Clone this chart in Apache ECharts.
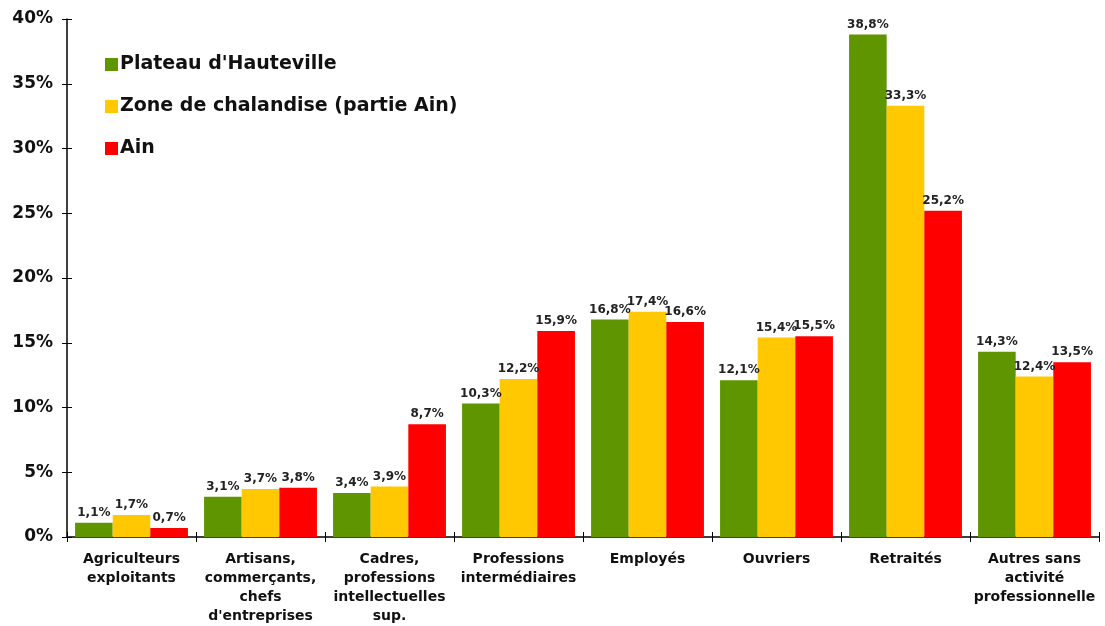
<!DOCTYPE html>
<html><head><meta charset="utf-8">
<script src="https://cdn.jsdelivr.net/npm/echarts@6/dist/echarts.min.js"></script>
<style>html,body{margin:0;padding:0;background:#fff}#c{width:1105px;height:626px}</style>
</head><body><div id="c"></div>
<script>
const categories = ["Agriculteurs\nexploitants","Artisans,\ncommerçants,\nchefs\nd'entreprises","Cadres,\nprofessions\nintellectuelles\nsup.","Professions\nintermédiaires","Employés","Ouvriers","Retraités","Autres sans\nactivité\nprofessionnelle"];
const seriesNames = ["Plateau d'Hauteville","Zone de chalandise (partie Ain)","Ain"];
const plateau = [1.1,3.1,3.4,10.3,16.8,12.1,38.8,14.3];
const zone = [1.7,3.7,3.9,12.2,17.4,15.4,33.3,12.4];
const ain = [0.7,3.8,8.7,15.9,16.6,15.5,25.2,13.5];
const colors = ["#5f9600","#ffc800","#ff0000"];
const F = "DejaVu Sans";
const chart = echarts.init(document.getElementById('c'));
function mk(name, data, color){
  return {name, type:'bar', data, itemStyle:{color}, barGap:'0%', barCategoryGap:'12.5%',
    label:{show:true, position:'top', distance:4, fontFamily:F, fontWeight:'bold', fontSize:12, color:'#222',
      formatter:p=>p.value.toFixed(1).replace('.',',')+'%'}};
}
chart.setOption({
  animation:false,
  textStyle:{fontFamily:F},
  grid:{left:67,right:6,top:19,bottom:86},
  legend:{orient:'vertical',left:100,top:50,itemWidth:13,itemHeight:13,itemGap:23,icon:'rect',
    textStyle:{fontFamily:F,fontWeight:'bold',fontSize:19,color:'#111',padding:[0,0,0,-3]},
    data:seriesNames},
  xAxis:[{type:'category',data:categories,
    axisLine:{lineStyle:{color:'#000',width:1.5}},
    axisTick:{show:true,length:5,lineStyle:{color:'#000'}},
    axisLabel:{interval:0,fontFamily:F,fontWeight:'bold',fontSize:14,color:'#111',lineHeight:19,margin:13}},
   {type:'category',data:categories,position:'bottom',axisLine:{show:false},
    axisTick:{show:true,inside:true,length:5,lineStyle:{color:'#000'}},axisLabel:{show:false}}],
  yAxis:[{type:'value',min:0,max:40,interval:5,
    axisLine:{show:true,lineStyle:{color:'#000',width:1.5}},
    axisTick:{show:true,length:5,lineStyle:{color:'#000'}},
    splitLine:{show:false},
    axisLabel:{fontFamily:F,fontWeight:'bold',fontSize:17,color:'#111',margin:14,formatter:v=>v+'%'}},
   {type:'value',min:0,max:40,interval:5,position:'left',axisLine:{show:false},
    axisTick:{show:true,inside:true,length:5,lineStyle:{color:'#000'}},splitLine:{show:false},axisLabel:{show:false}}],
  series:[mk(seriesNames[0],plateau,colors[0]),mk(seriesNames[1],zone,colors[1]),mk(seriesNames[2],ain,colors[2])]
});
</script></body></html>
